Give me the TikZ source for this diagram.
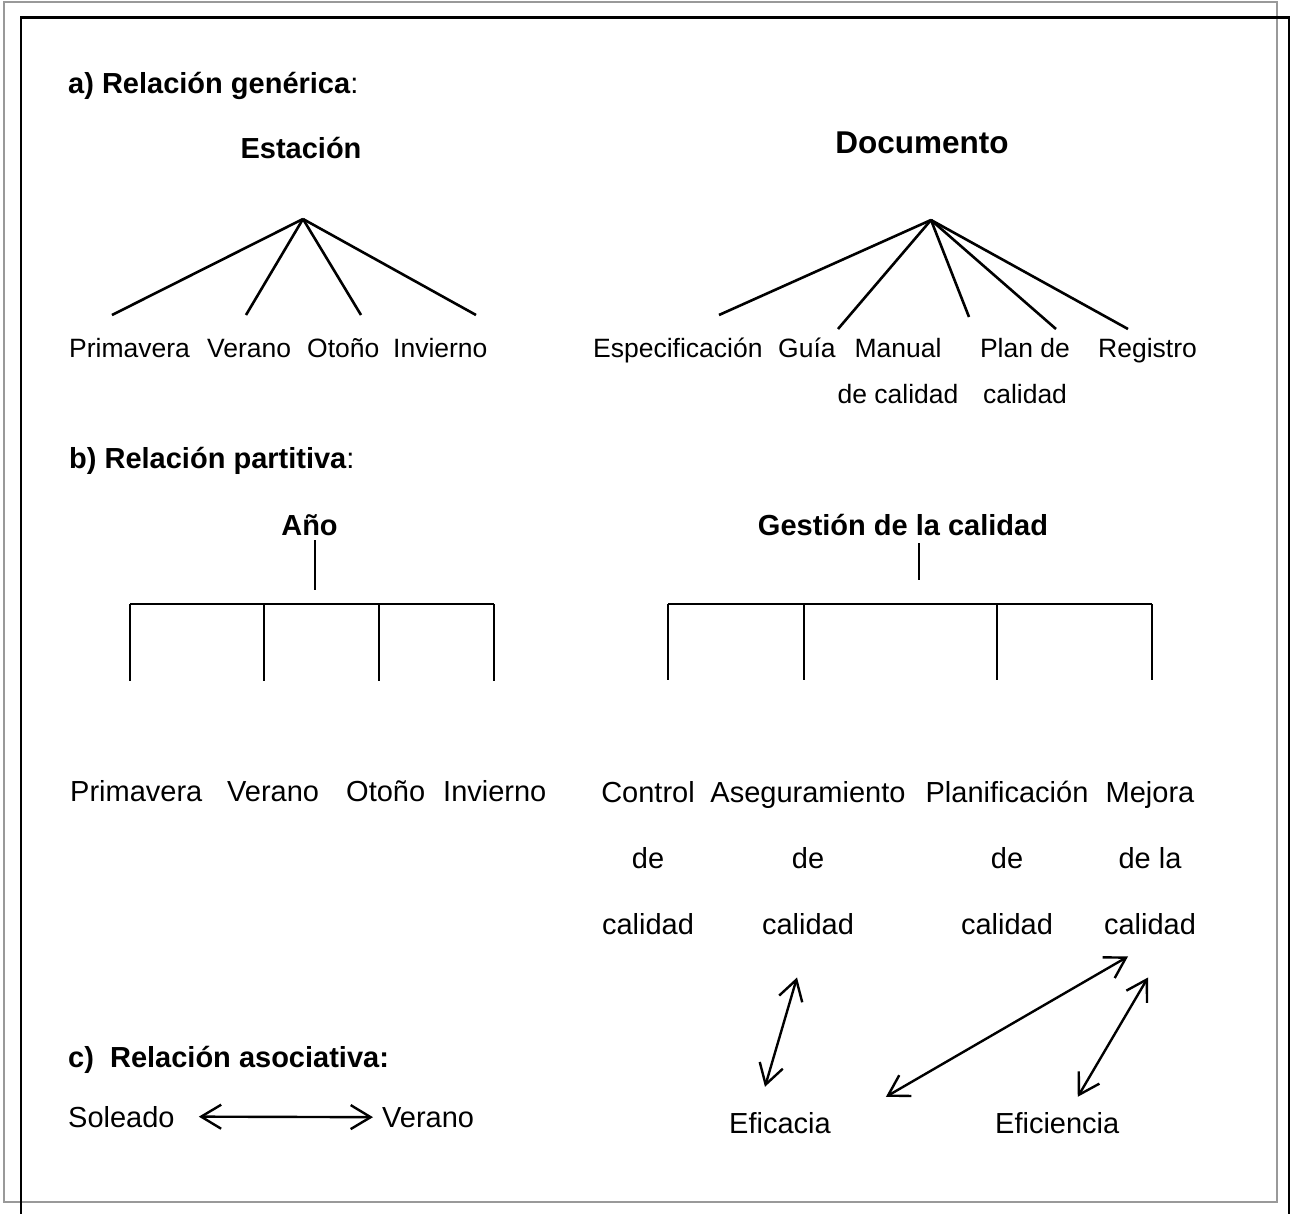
\documentclass[tikz,border=0pt]{standalone}
\usepackage{fontspec}
\setmainfont{Liberation Sans}
\usetikzlibrary{arrows.meta}

\tikzset{
    txta/.style={inner sep=0pt, align=center, font=\fontsize{26.5pt}{46pt}\selectfont},
    txtb/.style={inner sep=0pt, align=center, font=\fontsize{29pt}{66pt}\selectfont},
    head/.style={inner sep=0pt, font=\fontsize{29pt}{35pt}\selectfont\bfseries},
    headbig/.style={inner sep=0pt, font=\fontsize{31.5pt}{38pt}\selectfont\bfseries},
    tree/.style={line width=2.6pt},
    assoc/.style={line width=2.4pt, {Straight Barb[length=20pt,width=24pt]}-{Straight Barb[length=20pt,width=24pt]}}
}

\begin{document}
\begin{tikzpicture}[x=1pt,y=-1pt]
            \useasboundingbox (0,0) rectangle (1293,1213);
            \clip (0,0) rectangle (1293,1213);
            \draw[gray!80, line width=2pt] (4,2) rectangle (1277,1202);
            \draw[line width=2.6pt] (21,1220) -- (21,17.5) -- (1289,17.5) -- (1289,1220);

            \draw (68,93) node[head, anchor=base west] (tita) {a) Relación genérica{\mdseries :}};
            \draw (301,158) node[head, anchor=base] (est) {Estación};
            \draw (69,357) node[txta, anchor=base west] (prim) {Primavera};
            \draw (207,357) node[txta, anchor=base west] (ver) {Verano};
            \draw (307,357) node[txta, anchor=base west] (oto) {Otoño};
            \draw (393,357) node[txta, anchor=base west] (inv) {Invierno};
            \coordinate (est-top) at (303,219);
            \coordinate (est-1) at (112,315);
            \coordinate (est-2) at (246,315);
            \coordinate (est-3) at (361,315);
            \coordinate (est-4) at (476,315);
            \path[tree] (est-top) edge (est-1)
                        (est-top) edge (est-2)
                        (est-top) edge (est-3)
                        (est-top) edge (est-4);

            \draw (922,153) node[headbig, anchor=base] (doc) {Documento};
            \draw (593,357) node[txta, anchor=base west] (esp) {Especificación};
            \draw (778,357) node[txta, anchor=base west] (gui) {Guía};
            \draw (898,403) node[txta, anchor=base] (man) {Manual\\de calidad};
            \draw (1025,403) node[txta, anchor=base] (plan) {Plan de\\calidad};
            \draw (1098,357) node[txta, anchor=base west] (reg) {Registro};
            \coordinate (doc-top) at (931,220);
            \coordinate (doc-1) at (719,315);
            \coordinate (doc-2) at (838,329);
            \coordinate (doc-3) at (969,317);
            \coordinate (doc-4) at (1056,329);
            \coordinate (doc-5) at (1128,329);
            \path[tree] (doc-top) edge (doc-1)
                        (doc-top) edge (doc-2)
                        (doc-top) edge (doc-3)
                        (doc-top) edge (doc-4)
                        (doc-top) edge (doc-5);

            \draw (69,468) node[head, anchor=base west] (titb) {b) Relación partitiva{\mdseries :}};
            \draw (309.5,535) node[head, anchor=base] (ano) {Año};
            \draw (70,801) node[txtb, anchor=base west] (prim2) {Primavera};
            \draw (227,801) node[txtb, anchor=base west] (ver2) {Verano};
            \draw (346,801) node[txtb, anchor=base west] (oto2) {Otoño};
            \draw (443,801) node[txtb, anchor=base west] (inv2) {Invierno};
            \coordinate (ano-a) at (315,540);
            \coordinate (ano-b) at (315,590);
            \coordinate (ano-1) at (130,604);
            \coordinate (ano-2) at (264,604);
            \coordinate (ano-3) at (379,604);
            \coordinate (ano-4) at (494,604);
            \draw[tree] (ano-a) -- (ano-b);
            \draw[tree] (ano-1) -- (ano-4);
            \draw[tree] (ano-1) -- ++(0,77);
            \draw[tree] (ano-2) -- ++(0,77);
            \draw[tree] (ano-3) -- ++(0,77);
            \draw[tree] (ano-4) -- ++(0,77);

            \draw (903,535) node[head, anchor=base] (ges) {Gestión de la calidad};
            \draw (648,934) node[txtb, anchor=base] (ctl) {Control\\de\\calidad};
            \draw (808,934) node[txtb, anchor=base] (asg) {Aseguramiento\\de\\calidad};
            \draw (1007,934) node[txtb, anchor=base] (pla) {Planificación\\de\\calidad};
            \draw (1150,934) node[txtb, anchor=base] (mej) {Mejora\\de la\\calidad};
            \coordinate (ges-a) at (919,543);
            \coordinate (ges-b) at (919,580);
            \coordinate (ges-1) at (668,604);
            \coordinate (ges-2) at (804,604);
            \coordinate (ges-3) at (997,604);
            \coordinate (ges-4) at (1152,604);
            \draw[tree] (ges-a) -- (ges-b);
            \draw[tree] (ges-1) -- (ges-4);
            \draw[tree] (ges-1) -- ++(0,76);
            \draw[tree] (ges-2) -- ++(0,76);
            \draw[tree] (ges-3) -- ++(0,76);
            \draw[tree] (ges-4) -- ++(0,76);

            \draw (68,1067) node[head, anchor=base west] (titc) {c)~~Relación asociativa:};
            \draw (68,1127) node[txtb, anchor=base west] (sol) {Soleado};
            \draw (382,1127) node[txtb, anchor=base west] (ver3) {Verano};
            \draw (729,1133) node[txtb, anchor=base west] (efa) {Eficacia};
            \draw (995,1133) node[txtb, anchor=base west] (efi) {Eficiencia};
            \draw[assoc] ([xshift=24pt]sol.east) -- ([xshift=-9pt]ver3.west);
            \draw[assoc] ([xshift=-11pt,yshift=-43pt]asg.south) -- ([xshift=-15pt,yshift=25pt]efa.north);
            \draw[assoc] ([xshift=-22pt,yshift=-22pt]mej.south) -- ([xshift=55pt,yshift=15pt]efa.north east);
            \draw[assoc] ([xshift=-2pt,yshift=-43pt]mej.south) -- ([xshift=20.5pt,yshift=15pt]efi.north);
        \end{tikzpicture}
\end{document}
